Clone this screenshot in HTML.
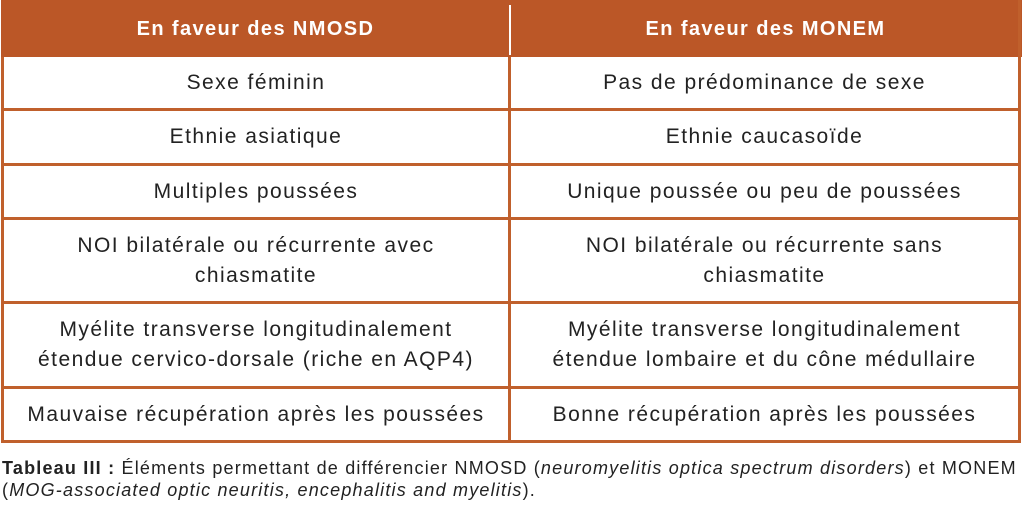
<!DOCTYPE html>
<html><head><meta charset="utf-8"><style>
body{margin:0;width:1024px;height:519px;background:#fff;position:relative;overflow:hidden;font-family:"Liberation Sans","DejaVu Sans",sans-serif;}
.hd{position:absolute;top:0;height:57px;background:#bb5727;}
.c{position:absolute;display:flex;align-items:center;justify-content:center;text-align:center;color:#222;font-size:21px;letter-spacing:1.45px;line-height:30px;}
.h{color:#fff;font-weight:bold;font-size:20px;letter-spacing:1.4px;}
.l{position:absolute;background:#c0602c;}
.cap{position:absolute;left:2px;top:457px;font-size:18px;letter-spacing:1.2px;line-height:22px;color:#222;white-space:nowrap;}
</style></head><body>
<div class="hd" style="left:1px;width:1021px"></div>
<div style="position:absolute;left:509px;top:5px;width:2px;height:50px;background:#fff"></div>
<div class="c h" style="left:2px;top:0;width:507px;height:57px">En faveur des NMOSD</div>
<div class="c h" style="left:511px;top:0;width:509px;height:57px">En faveur des MONEM</div>
<div class="l" style="left:1px;top:57px;width:3px;height:386px"></div>
<div class="l" style="left:1018px;top:0;width:3px;height:443px"></div>
<div class="l" style="left:508px;top:57px;width:3px;height:386px"></div>
<div class="l" style="left:1px;top:108px;width:1020px;height:3px"></div>
<div class="l" style="left:1px;top:163px;width:1020px;height:3px"></div>
<div class="l" style="left:1px;top:217px;width:1020px;height:3px"></div>
<div class="l" style="left:1px;top:301px;width:1020px;height:3px"></div>
<div class="l" style="left:1px;top:386px;width:1020px;height:3px"></div>
<div class="l" style="left:1px;top:440px;width:1020px;height:3px"></div>
<div class="c" style="left:4px;top:57px;width:504px;height:51px">Sexe féminin</div>
<div class="c" style="left:511px;top:57px;width:507px;height:51px">Pas de prédominance de sexe</div>
<div class="c" style="left:4px;top:111px;width:504px;height:52px">Ethnie asiatique</div>
<div class="c" style="left:511px;top:111px;width:507px;height:52px">Ethnie caucasoïde</div>
<div class="c" style="left:4px;top:166px;width:504px;height:51px">Multiples poussées</div>
<div class="c" style="left:511px;top:166px;width:507px;height:51px">Unique poussée ou peu de poussées</div>
<div class="c" style="left:4px;top:220px;width:504px;height:81px">NOI bilatérale ou récurrente avec<br>chiasmatite</div>
<div class="c" style="left:511px;top:220px;width:507px;height:81px">NOI bilatérale ou récurrente sans<br>chiasmatite</div>
<div class="c" style="left:4px;top:304px;width:504px;height:82px">Myélite transverse longitudinalement<br>étendue cervico-dorsale (riche en AQP4)</div>
<div class="c" style="left:511px;top:304px;width:507px;height:82px">Myélite transverse longitudinalement<br>étendue lombaire et du cône médullaire</div>
<div class="c" style="left:4px;top:389px;width:504px;height:51px">Mauvaise récupération après les poussées</div>
<div class="c" style="left:511px;top:389px;width:507px;height:51px">Bonne récupération après les poussées</div>
<div class="cap"><b>Tableau III :</b> Éléments permettant de différencier NMOSD (<i>neuromyelitis optica spectrum disorders</i>) et MONEM<br>(<i>MOG-associated optic neuritis, encephalitis and myelitis</i>).</div>
</body></html>
